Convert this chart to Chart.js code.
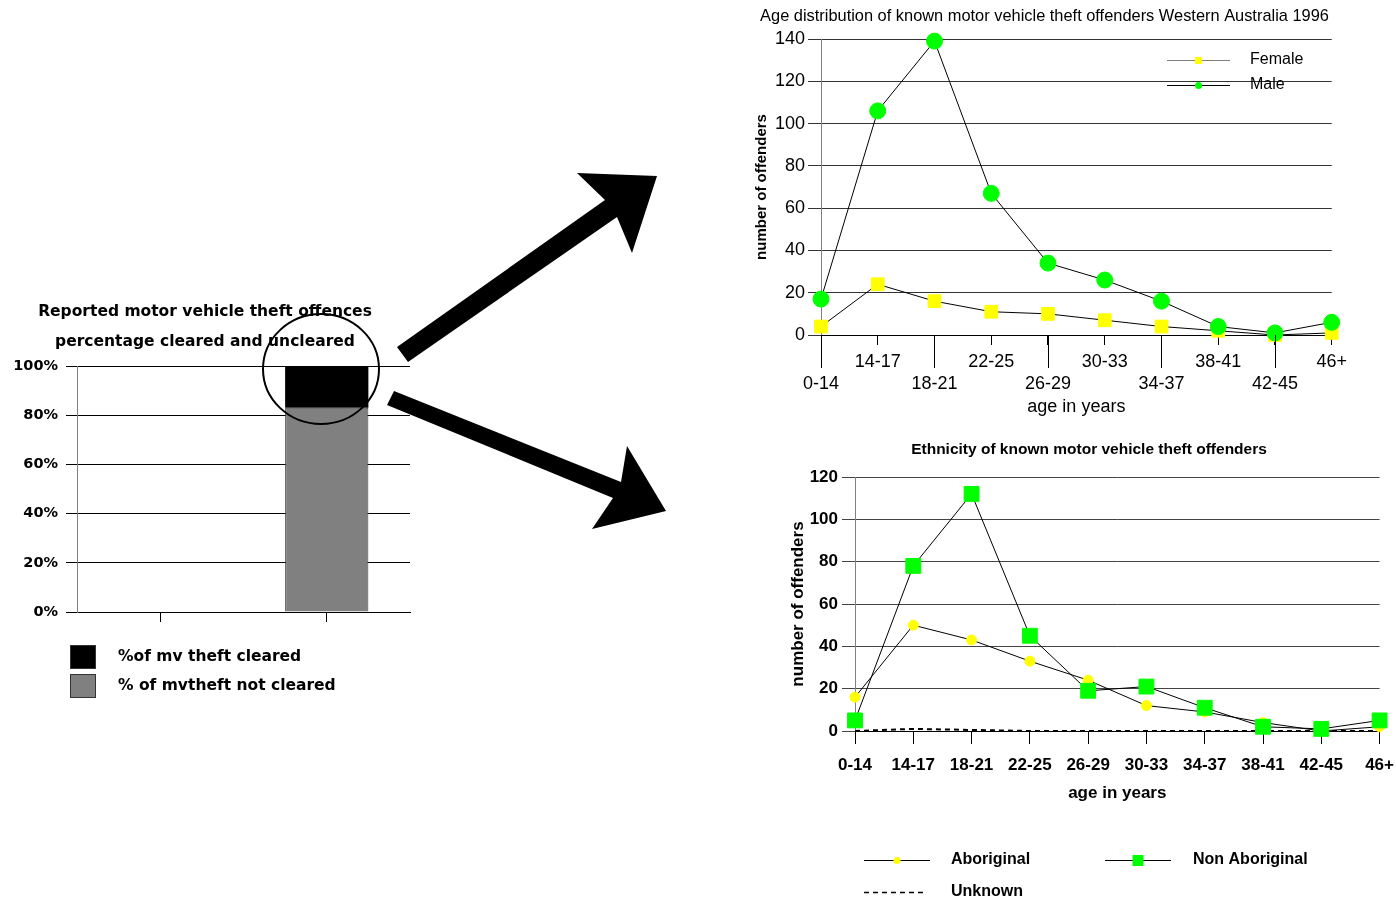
<!DOCTYPE html>
<html lang="en">
<head>
<meta charset="UTF-8">
<title>Motor vehicle theft offenders</title>
<script src="https://cdn.jsdelivr.net/npm/chart.js"></script>
<style>
  body { margin: 0; background: #fff; }
  #page { position: relative; width: 1396px; height: 903px; overflow: hidden; }
  canvas, svg { position: absolute; }
</style>
</head>
<body>
<div id="page">
  <canvas id="clearedChart" width="420" height="420" style="left:0;top:290px"></canvas>
  <canvas id="genderChart" width="598" height="420" style="left:755px;top:0"></canvas>
  <canvas id="ethnicChart" width="615" height="473" style="left:790px;top:430px"></canvas>
  <svg width="1396" height="903" style="left:0;top:0">
    <polygon points="397,347 605,200 577,173 657,176 632,253 617,217 408,362" fill="#000"/>
    <polygon points="394,391 621,482 627,446 666,511 592,529 613,498 387,405" fill="#000"/>
    <ellipse cx="321" cy="369" rx="58" ry="55" fill="none" stroke="#000" stroke-width="2"/>
  </svg>
</div>

<script>
  // cleared / not cleared (percent)
  let clearCategories = ['', ''];
  let clearedPct = [null, 17];
  let notClearedPct = [null, 83];

  // offenders by age group
  let ageGroups = ['0-14', '14-17', '18-21', '22-25', '26-29', '30-33', '34-37', '38-41', '42-45', '46+'];
  let femaleCounts = [4, 24, 16, 11, 10, 7, 4, 2, 0, 1];
  let maleCounts = [17, 106, 139, 67, 34, 26, 16, 4, 1, 6];
  let aboriginalCounts = [16, 50, 43, 33, 24, 12, 9, 4, 0, 2];
  let nonAboriginalCounts = [5, 78, 112, 45, 19, 21, 11, 2, 1, 5];
  let unknownCounts = [0, 1, 0.5, 0, 0, 0, 0, 0, 0, 0];

  let GREEN = '#00ff00';
  let YELLOW = '#ffff00';

  Chart.defaults.color = '#000';
  Chart.defaults.animation = false;
  Chart.defaults.font.family = '"Liberation Sans", Arial, sans-serif';

  // legend line with a marker in the middle, like the old spreadsheet legends
  function legendLine(ctx, x1, x2, y, item) {
    ctx.save();
    ctx.strokeStyle = item.lineColor || '#000';
    ctx.lineWidth = item.width || 1;
    if (item.dash) ctx.setLineDash(item.dash);
    ctx.beginPath();
    ctx.moveTo(x1, y + 0.5);
    ctx.lineTo(x2, y + 0.5);
    ctx.stroke();
    ctx.setLineDash([]);
    if (item.marker) {
      let mx = (x1 + x2) / 2;
      ctx.fillStyle = item.marker;
      if (item.square) ctx.fillRect(mx - item.size / 2, y - item.size / 2 + 0.5, item.size, item.size);
      else { ctx.beginPath(); ctx.arc(mx, y + 0.5, item.size / 2, 0, Math.PI * 2); ctx.fill(); }
    }
    ctx.fillStyle = '#000';
    ctx.font = item.font;
    ctx.textBaseline = 'middle';
    ctx.fillText(item.text, item.textX, y);
    ctx.restore();
  }

  // ---- left: stacked bar ----
  let clearedLegend = {
    id: 'clearedLegend',
    afterDraw(chart) {
      let ctx = chart.ctx;
      let sets = chart.data.datasets.slice().reverse();
      ctx.save();
      sets.forEach(function(ds, i) {
        let y = 355 + i * 29;
        ctx.fillStyle = ds.backgroundColor;
        ctx.fillRect(70, y, 25, 23);
        ctx.strokeStyle = '#333';
        ctx.strokeRect(70.5, y + 0.5, 25, 23);
        ctx.fillStyle = '#000';
        ctx.font = 'bold 15.5px "DejaVu Sans"';
        ctx.textBaseline = 'middle';
        ctx.fillText(ds.label, 118, y + 12);
      });
      ctx.restore();
    }
  };

  new Chart(document.getElementById('clearedChart'), {
    type: 'bar',
    data: {
      labels: clearCategories,
      datasets: [
        { label: '% of mvtheft not cleared', data: notClearedPct, backgroundColor: '#808080', borderColor: '#404040', borderWidth: 1 },
        { label: '%of mv theft cleared', data: clearedPct, backgroundColor: '#000000' }
      ]
    },
    options: {
      responsive: false,
      layout: { padding: { right: 10 } },
      categoryPercentage: 1,
      barPercentage: 0.5,
      plugins: {
        legend: { display: false },
        tooltip: { enabled: false },
        title: {
          display: true,
          text: ['Reported motor vehicle theft offences', 'percentage cleared and uncleared'],
          font: { family: '"DejaVu Sans"', size: 15.5, weight: 'bold', lineHeight: '30px' },
          padding: { top: 7, bottom: 9 }
        }
      },
      scales: {
        x: {
          stacked: true,
          grid: { drawOnChartArea: false, offset: false, tickLength: 10, color: '#000' },
          border: { color: '#000' },
          ticks: { display: false },
          afterFit: function(s) { s.height = 98; }
        },
        y: {
          stacked: true,
          min: 0, max: 100,
          ticks: { stepSize: 20, padding: 8, font: { family: '"DejaVu Sans"', size: 14.5, weight: 'bold' }, callback: function(v) { return v + '%'; } },
          grid: { color: '#000', tickLength: 11 },
          border: { color: '#808080' },
          afterFit: function(s) { s.width = 77; }
        }
      }
    },
    plugins: [clearedLegend]
  });

  // ---- top right: gender ----
  let longTicks = {
    id: 'longTicks',
    afterDraw(chart) {
      let x = chart.scales.x, ctx = chart.ctx;
      ctx.save();
      ctx.strokeStyle = '#000';
      ctx.lineWidth = 1;
      ageGroups.forEach(function(g, i) {
        if (i % 2) return;
        let px = Math.round(x.getPixelForValue(i)) + 0.5;
        ctx.beginPath();
        ctx.moveTo(px, x.top);
        ctx.lineTo(px, x.top + 33);
        ctx.stroke();
      });
      ctx.restore();
    }
  };

  let genderLegend = {
    id: 'genderLegend',
    afterDraw(chart) {
      let f = '16px "Liberation Sans"';
      legendLine(chart.ctx, 412, 475, 60, { lineColor: '#808080', marker: YELLOW, square: true, size: 7, text: 'Female', textX: 495, font: f });
      legendLine(chart.ctx, 412, 475, 85, { lineColor: '#000', marker: GREEN, size: 7, text: 'Male', textX: 495, font: f });
    }
  };

  new Chart(document.getElementById('genderChart'), {
    type: 'line',
    data: {
      labels: ageGroups,
      datasets: [
        { label: 'Male', data: maleCounts, borderColor: '#000', borderWidth: 1, pointStyle: 'circle', pointRadius: 8,
          pointBackgroundColor: GREEN, pointBorderColor: GREEN, clip: false, order: 0 },
        { label: 'Female', data: femaleCounts, borderColor: '#000', borderWidth: 1, pointStyle: 'rect', pointRadius: 9,
          pointBackgroundColor: YELLOW, pointBorderColor: YELLOW, clip: false, order: 1 }
      ]
    },
    options: {
      responsive: false,
      layout: { padding: { right: 19 } },
      plugins: {
        legend: { display: false },
        tooltip: { enabled: false },
        title: {
          display: true,
          text: 'Age distribution of known motor vehicle theft offenders Western Australia 1996',
          font: { size: 16.4, weight: 'normal', lineHeight: '18px' },
          padding: { top: 7, bottom: 14 }
        }
      },
      scales: {
        x: {
          grid: { drawOnChartArea: false, tickLength: 10, color: '#000' },
          border: { color: '#000' },
          ticks: {
            autoSkip: false, maxRotation: 0, padding: 6,
            font: { size: 18, lineHeight: 1.22 },
            callback: function(v, i) { return i % 2 ? ageGroups[i] : ['', ageGroups[i]]; }
          },
          title: { display: true, text: 'age in years', font: { size: 18 }, padding: { top: 0, bottom: 2 } },
          afterFit: function(s) { s.height = 85; }
        },
        y: {
          min: 0, max: 140,
          ticks: { stepSize: 20, padding: 3, font: { size: 18 } },
          grid: { color: '#333', tickLength: 13 },
          border: { color: '#808080' },
          title: { display: true, text: 'number of offenders', font: { size: 15, weight: 'bold', lineHeight: '14px' }, padding: 0 },
          afterFit: function(s) { s.width = 66; }
        }
      }
    },
    plugins: [longTicks, genderLegend]
  });

  // ---- bottom right: ethnicity ----
  let ethnicLegend = {
    id: 'ethnicLegend',
    afterDraw(chart) {
      let f = 'bold 16px "Liberation Sans"';
      legendLine(chart.ctx, 74, 140, 430, { marker: YELLOW, size: 7, text: 'Aboriginal', textX: 161, font: f });
      legendLine(chart.ctx, 315, 381, 430, { marker: GREEN, square: true, size: 11, text: 'Non Aboriginal', textX: 403, font: f });
      legendLine(chart.ctx, 74, 135, 462, { dash: [5, 4], width: 1.5, text: 'Unknown', textX: 161, font: f });
    }
  };

  new Chart(document.getElementById('ethnicChart'), {
    type: 'line',
    data: {
      labels: ageGroups,
      datasets: [
        { label: 'Aboriginal', data: aboriginalCounts, borderColor: '#000', borderWidth: 1, pointStyle: 'circle', pointRadius: 5,
          pointBackgroundColor: YELLOW, pointBorderColor: YELLOW, clip: false, order: 1 },
        { label: 'Non Aboriginal', data: nonAboriginalCounts, borderColor: '#000', borderWidth: 1, pointStyle: 'rect', pointRadius: 10.5,
          pointBackgroundColor: GREEN, pointBorderColor: GREEN, clip: false, order: 0 },
        { label: 'Unknown', data: unknownCounts, borderColor: '#000', borderWidth: 2, borderDash: [5, 4], pointRadius: 0, clip: false, order: 2 }
      ]
    },
    options: {
      responsive: false,
      layout: { padding: { right: 17, bottom: 93 } },
      plugins: {
        legend: { display: false },
        tooltip: { enabled: false },
        title: {
          display: true,
          text: 'Ethnicity of known motor vehicle theft offenders',
          font: { size: 15.5, weight: 'bold', lineHeight: '18px' },
          padding: { top: 11, bottom: 18 }
        }
      },
      scales: {
        x: {
          grid: { drawOnChartArea: false, tickLength: 13, color: '#000' },
          border: { color: '#000' },
          ticks: { autoSkip: false, maxRotation: 0, padding: 11, font: { size: 17, weight: 'bold' } },
          title: { display: true, text: 'age in years', font: { size: 17, weight: 'bold' }, padding: { top: 0, bottom: 6 } },
          afterFit: function(s) { s.height = 79; }
        },
        y: {
          min: 0, max: 120,
          ticks: { stepSize: 20, padding: 4, font: { size: 17, weight: 'bold' } },
          grid: { color: '#444', tickLength: 13 },
          border: { color: '#808080' },
          title: { display: true, text: 'number of offenders', font: { size: 17, weight: 'bold', lineHeight: '16px' }, padding: 0 },
          afterFit: function(s) { s.width = 65; }
        }
      }
    },
    plugins: [ethnicLegend]
  });
</script>
</body>
</html>
